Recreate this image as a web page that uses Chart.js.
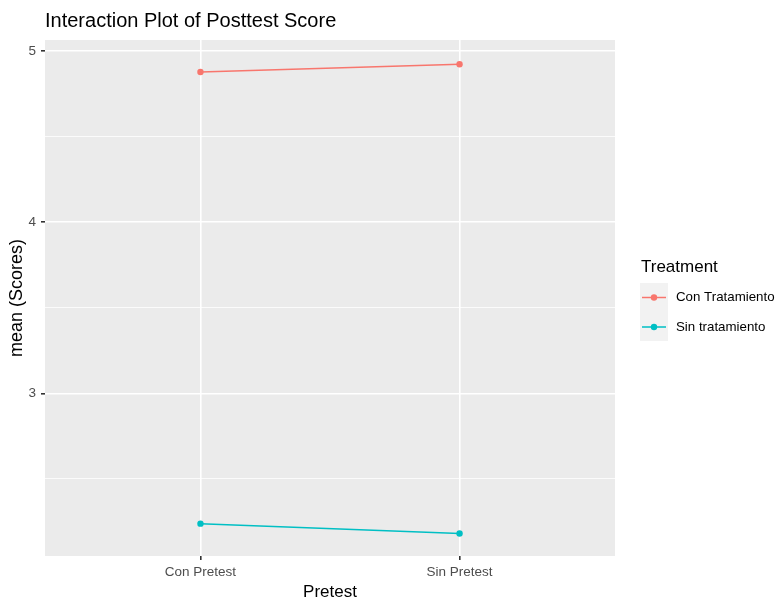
<!DOCTYPE html>
<html><head><meta charset="utf-8">
<script src="https://cdn.jsdelivr.net/npm/chart.js@4/dist/chart.umd.min.js"></script>
<style>html,body{margin:0;padding:0;background:#fff}#wrap{width:777px;height:600px;position:relative}</style>
</head><body><div id="wrap"><canvas id="c" width="777" height="600"></canvas></div>
<script>
const chartTitle = 'Interaction Plot of Posttest Score';
const xTitle = 'Pretest';
const yTitle = 'mean (Scores)';
const legendTitle = 'Treatment';
const categories = ['Con Pretest', 'Sin Pretest'];
const seriesNames = ['Con Tratamiento', 'Sin tratamiento'];
const conTratamiento = [4.877, 4.922];
const sinTratamiento = [2.239, 2.181];
const yMajorTicks = [3, 4, 5];
const yMinorTicks = [2.5, 3.5, 4.5];
const seriesColors = ['#F8766D', '#00BFC4'];

const FONT = 'Arial, "Liberation Sans", Helvetica, sans-serif';
const seriesValues = [conTratamiento, sinTratamiento];

const datasets = seriesNames.map((name, s) => ({
  label: name,
  data: categories.map((c, i) => ({ x: i, y: seriesValues[s][i] })),
  borderColor: seriesColors[s],
  backgroundColor: seriesColors[s],
  borderWidth: 1.5,
  pointRadius: 3.2,
  pointBorderWidth: 0,
  tension: 0
}));

const ggPlugin = {
  id: 'gg',
  beforeDraw(chart) {
    const { ctx, chartArea: a } = chart;
    ctx.save();
    ctx.fillStyle = '#EBEBEB';
    ctx.fillRect(a.left, a.top, a.right - a.left, a.bottom - a.top);
    ctx.restore();
  },
  afterDraw(chart) {
    const { ctx, chartArea: a } = chart;
    ctx.save();
    // title
    ctx.fillStyle = '#000';
    ctx.font = '20px ' + FONT;
    ctx.textAlign = 'left';
    ctx.textBaseline = 'alphabetic';
    ctx.fillText(chartTitle, 45, 27);
    // x title
    ctx.font = '17px ' + FONT;
    ctx.textAlign = 'center';
    ctx.textBaseline = 'middle';
    ctx.fillText(xTitle, (a.left + a.right) / 2, 592);
    // y title
    ctx.save();
    ctx.font = '18px ' + FONT;
    ctx.translate(17, (a.top + a.bottom) / 2);
    ctx.rotate(-Math.PI / 2);
    ctx.fillText(yTitle, 0, 0);
    ctx.restore();
    // legend
    ctx.textAlign = 'left';
    ctx.font = '17px ' + FONT;
    ctx.fillText(legendTitle, 641, 267);
    ctx.fillStyle = '#F2F2F2';
    ctx.fillRect(640, 283, 28, 58);
    const keyY = [297.5, 327];
    seriesNames.forEach((name, s) => {
      const y = keyY[s];
      ctx.strokeStyle = seriesColors[s];
      ctx.lineWidth = 1.5;
      ctx.beginPath();
      ctx.moveTo(642, y);
      ctx.lineTo(666, y);
      ctx.stroke();
      ctx.fillStyle = seriesColors[s];
      ctx.beginPath();
      ctx.arc(654, y, 3.2, 0, Math.PI * 2);
      ctx.fill();
      ctx.fillStyle = '#000';
      ctx.font = '13.3px ' + FONT;
      ctx.fillText(name, 676, y);
    });
    ctx.restore();
  }
};

new Chart(document.getElementById('c'), {
  type: 'line',
  data: { datasets },
  plugins: [ggPlugin],
  options: {
    responsive: false,
    animation: false,
    devicePixelRatio: 1,
    layout: { padding: { top: 40, right: 162, left: 0, bottom: 0 } },
    plugins: { legend: { display: false }, title: { display: false }, tooltip: { enabled: false } },
    scales: {
      x: {
        type: 'linear',
        min: -0.6,
        max: 1.6,
        afterBuildTicks(s) { s.ticks = categories.map((c, i) => ({ value: i })); },
        afterFit(s) { s.height = 44; },
        border: { display: false },
        grid: { color: '#FFFFFF', lineWidth: 1.6, tickColor: '#333333', tickLength: 4, drawTicks: true },
        ticks: {
          autoSkip: false, maxRotation: 0, padding: 4,
          color: '#4D4D4D', font: { family: FONT, size: 13.5 },
          callback: (v) => categories[Math.round(v)]
        }
      },
      y: {
        type: 'linear',
        min: 2.05,
        max: 5.064,
        afterBuildTicks(s) {
          s.ticks = yMinorTicks.concat(yMajorTicks).sort((p, q) => p - q).map(v => ({ value: v }));
        },
        afterFit(s) { s.width = 45; },
        border: { display: false },
        grid: {
          color: '#FFFFFF',
          lineWidth: (c) => (c.tick && yMajorTicks.includes(c.tick.value)) ? 1.6 : 0.8,
          tickColor: (c) => (c.tick && yMajorTicks.includes(c.tick.value)) ? '#333333' : 'rgba(0,0,0,0)',
          tickLength: 4
        },
        ticks: {
          padding: 5, color: '#4D4D4D', font: { family: FONT, size: 13.5 },
          callback: (v) => yMajorTicks.includes(v) ? String(v) : ''
        }
      }
    }
  }
});
</script>
</body></html>
